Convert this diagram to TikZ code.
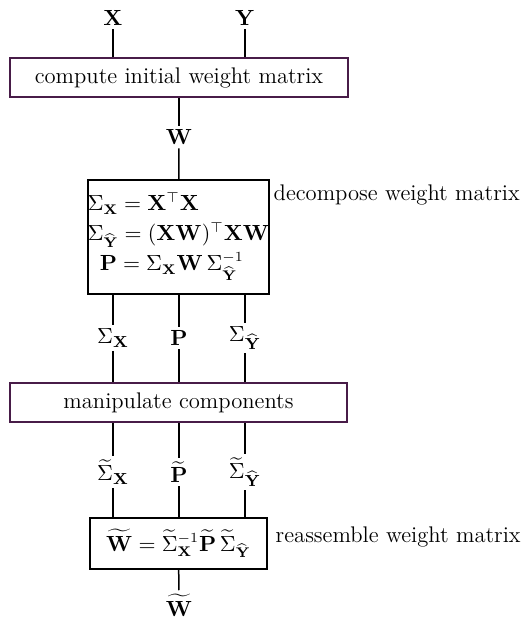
\documentclass[tikz,border=0pt]{standalone}
\usepackage{amsmath}
\definecolor{W07purple}{RGB}{72,28,72}
\tikzset{W07op/.style={draw=W07purple,line width=1pt,fill=white,inner sep=0pt},
         W07calc/.style={draw,line width=1.1pt,inner sep=0pt,align=left,font=\fontsize{10.6}{15}\selectfont},
         W07lab/.style={inner sep=1.5pt},
         W07side/.style={anchor=base west,inner sep=0pt}}

\begin{document}
\begin{tikzpicture}[x=0.5pt,y=-0.5pt,line width=0.75pt,font=\fontsize{11.3}{14}\selectfont]
    \useasboundingbox (0,0) rectangle (523,629);
    % inputs and first step
    \node[W07lab] (x) at (113,18) {$\mathbf{X}$};
    \node[W07lab] (y) at (245,18) {$\mathbf{Y}$};
    \node[W07op,minimum width=169pt,minimum height=19.5pt] (init) at (179,77.5) {compute initial weight matrix};
    \draw (x) -- (x |- init.north); \draw (y) -- (y |- init.north);
    \node[W07lab] (w) at (179,137) {$\mathbf{W}$};
    \draw (init) -- (w);
    % decomposition
    \node[W07calc,minimum width=88.5pt,minimum height=57pt] (dec) at (178.5,237)
      {$\Sigma_{\mathbf{X}} = \mathbf{X}^{\top}\mathbf{X}$\\
       $\Sigma_{\widehat{\mathbf{Y}}} = (\mathbf{X}\mathbf{W})^{\top}\mathbf{X}\mathbf{W}$\\
       \hspace*{6pt}$\mathbf{P} = \Sigma_{\mathbf{X}}\mathbf{W}\,\Sigma_{\widehat{\mathbf{Y}}}^{-1}$};
    \draw (w) -- (dec);
    \node[W07side] (declab) at (273,200) {decompose weight matrix};
    \foreach \x/\n/\t in {113/1/{\Sigma_{\mathbf{X}}},179/2/{\mathbf{P}},245/3/{\Sigma_{\widehat{\mathbf{Y}}}}}
      {\node[W07lab] (c\n) at (\x,338) {$\t$};}
    % manipulation
    \node[W07op,minimum width=168.5pt,minimum height=19.5pt] (man) at (178.5,402.5) {manipulate components};
    \foreach \x/\n/\t in {113/1/{\widetilde{\Sigma}_{\mathbf{X}}},179/2/{\widetilde{\mathbf{P}}},245/3/{\widetilde{\Sigma}_{\widehat{\mathbf{Y}}}}}
      {\node[W07lab] (m\n) at (\x,472) {$\t$};}
    % reassembly
    \node[W07calc,minimum width=88.5pt,minimum height=25.5pt] (rea) at (178.5,543.5)
      {$\widetilde{\mathbf{W}} = \widetilde{\Sigma}_{\mathbf{X}}^{-1}\widetilde{\mathbf{P}}\,\widetilde{\Sigma}_{\widehat{\mathbf{Y}}}$};
    \node[W07side] (realab) at (275,542) {reassemble weight matrix};
    \node[W07lab] (wt) at (179,605) {$\widetilde{\mathbf{W}}$};
    \foreach \n in {1,2,3}
      {\draw (c\n |- dec.south) -- (c\n); \draw (c\n) -- (c\n |- man.north);
       \draw (m\n |- man.south) -- (m\n); \draw (m\n) -- (m\n |- rea.north);}
    \draw (rea) -- (wt);
  \end{tikzpicture}
\end{document}
